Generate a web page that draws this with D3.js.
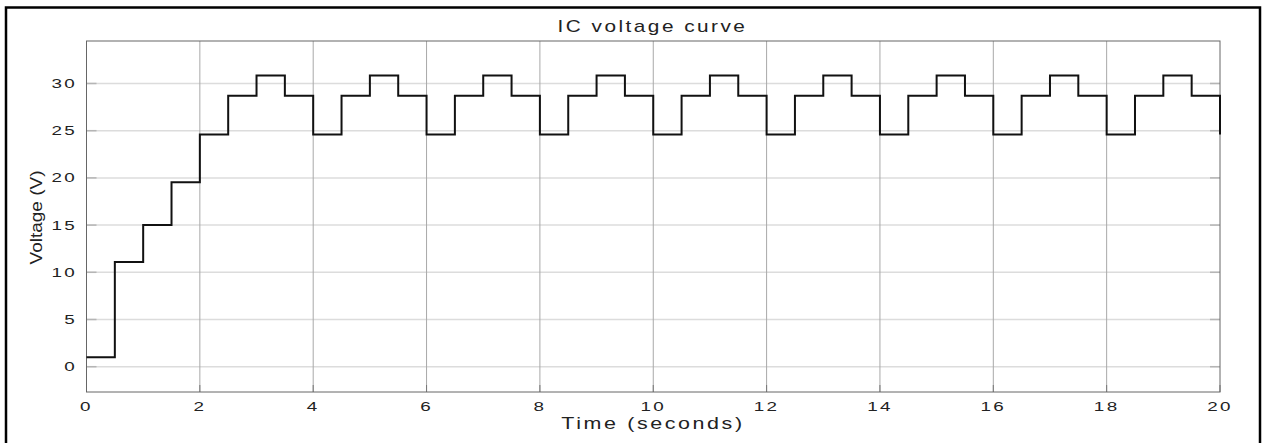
<!DOCTYPE html>
<html>
<head>
<meta charset="utf-8">
<script src="https://cdn.jsdelivr.net/npm/d3@7"></script>
<style>
  body { margin: 0; background: #fff; }
  svg { display: block; }
  text { font-family: "Liberation Sans", Arial, sans-serif; fill: #222; }
</style>
</head>
<body>
<div id="chart"></div>
<script>
// step times (seconds) and the voltage held from each time on
var times = [0, 0.5, 1, 1.5, 2, 2.5, 3, 3.5, 4, 4.5, 5, 5.5, 6, 6.5, 7, 7.5, 8, 8.5, 9, 9.5,
             10, 10.5, 11, 11.5, 12, 12.5, 13, 13.5, 14, 14.5, 15, 15.5, 16, 16.5, 17, 17.5,
             18, 18.5, 19, 19.5, 20];
var voltage = [1.0, 11.1, 15.0, 19.55, 24.6, 28.7, 30.85, 28.7, 24.6, 28.7, 30.85, 28.7,
               24.6, 28.7, 30.85, 28.7, 24.6, 28.7, 30.85, 28.7, 24.6, 28.7, 30.85, 28.7,
               24.6, 28.7, 30.85, 28.7, 24.6, 28.7, 30.85, 28.7, 24.6, 28.7, 30.85, 28.7,
               24.6, 28.7, 30.85, 28.7, 24.6];
var xTicks = [0, 2, 4, 6, 8, 10, 12, 14, 16, 18, 20];
var yTicks = [0, 5, 10, 15, 20, 25, 30];

var width = 1262;
var height = 443;
var sx = 1.45; // the picture is stretched sideways, so is its text

var plot = { left: 86.5, right: 1220, top: 41, bottom: 392 };

var svg = d3.select('#chart')
    .append('svg')
    .attr('width', width)
    .attr('height', height);

// outer frame (no bottom edge visible)
svg.append('rect')
    .attr('x', 6).attr('y', 7.5)
    .attr('width', 1254).attr('height', 460)
    .attr('fill', 'none')
    .attr('stroke', '#000')
    .attr('stroke-width', 2.5);

var x = d3.scaleLinear().domain([0, 20]).range([plot.left, plot.right]);
var y = d3.scaleLinear().domain([-2.68, 34.5]).range([plot.bottom, plot.top]);

// horizontal grid
svg.append('g').selectAll('line')
    .data(yTicks)
    .enter().append('line')
    .attr('x1', plot.left).attr('x2', plot.right)
    .attr('y1', function(d) { return y(d); })
    .attr('y2', function(d) { return y(d); })
    .attr('stroke', '#dcdcdc')
    .attr('stroke-width', 1.5);

// vertical grid
svg.append('g').selectAll('line')
    .data(xTicks.slice(1, -1))
    .enter().append('line')
    .attr('y1', plot.top).attr('y2', plot.bottom)
    .attr('x1', function(d) { return x(d); })
    .attr('x2', function(d) { return x(d); })
    .attr('stroke', '#a8a8a8')
    .attr('stroke-width', 1);

// inner tick marks
var yTickG = svg.append('g');
yTickG.selectAll('.tl')
    .data(yTicks).enter().append('line')
    .attr('x1', plot.left).attr('x2', plot.left + 10)
    .attr('y1', function(d) { return y(d); })
    .attr('y2', function(d) { return y(d); })
    .attr('stroke', '#b5b5b5').attr('stroke-width', 1.5);
yTickG.selectAll('.tr')
    .data(yTicks).enter().append('line')
    .attr('x1', plot.right - 10).attr('x2', plot.right)
    .attr('y1', function(d) { return y(d); })
    .attr('y2', function(d) { return y(d); })
    .attr('stroke', '#b5b5b5').attr('stroke-width', 1.5);
svg.append('g').selectAll('line')
    .data(xTicks).enter().append('line')
    .attr('x1', function(d) { return x(d); })
    .attr('x2', function(d) { return x(d); })
    .attr('y1', plot.bottom - 7).attr('y2', plot.bottom)
    .attr('stroke', '#777').attr('stroke-width', 1);

// plot box
svg.append('rect')
    .attr('x', plot.left).attr('y', plot.top)
    .attr('width', plot.right - plot.left)
    .attr('height', plot.bottom - plot.top)
    .attr('fill', 'none')
    .attr('stroke', '#666')
    .attr('stroke-width', 1);

// the step curve
var pts = times.map(function(t, i) { return [t, voltage[i]]; });
var line = d3.line()
    .x(function(d) { return x(d[0]); })
    .y(function(d) { return y(d[1]); })
    .curve(d3.curveStepAfter);

svg.append('path')
    .datum(pts)
    .attr('d', line)
    .attr('fill', 'none')
    .attr('stroke', '#111')
    .attr('stroke-width', 2);

// tick labels
svg.append('g').selectAll('text')
    .data(xTicks).enter().append('text')
    .attr('transform', function(d) { return 'translate(' + x(d) + ',411) scale(' + sx + ',1)'; })
    .attr('text-anchor', 'middle')
    .style('font-size', '13px')
    .style('letter-spacing', '1.6px')
    .text(function(d) { return d; });

svg.append('g').selectAll('text')
    .data(yTicks).enter().append('text')
    .attr('transform', function(d) { return 'translate(77,' + (y(d) + 4.6) + ') scale(' + sx + ',1)'; })
    .attr('text-anchor', 'end')
    .style('font-size', '13px')
    .style('letter-spacing', '1.6px')
    .text(function(d) { return d; });

// title and axis labels
svg.append('text')
    .attr('transform', 'translate(652.5,31.5) scale(1.3,1)')
    .attr('text-anchor', 'middle')
    .style('font-size', '16px')
    .style('letter-spacing', '1.9px')
    .text('IC voltage curve');

svg.append('text')
    .attr('transform', 'translate(653,429) scale(1.3,1)')
    .attr('text-anchor', 'middle')
    .style('font-size', '16.5px')
    .style('letter-spacing', '2px')
    .text('Time (seconds)');

svg.append('text')
    .attr('transform', 'translate(42,217.5) rotate(-90) scale(1,0.85)')
    .attr('text-anchor', 'middle')
    .style('font-size', '19px')
    .text('Voltage (V)');
</script>
</body>
</html>
